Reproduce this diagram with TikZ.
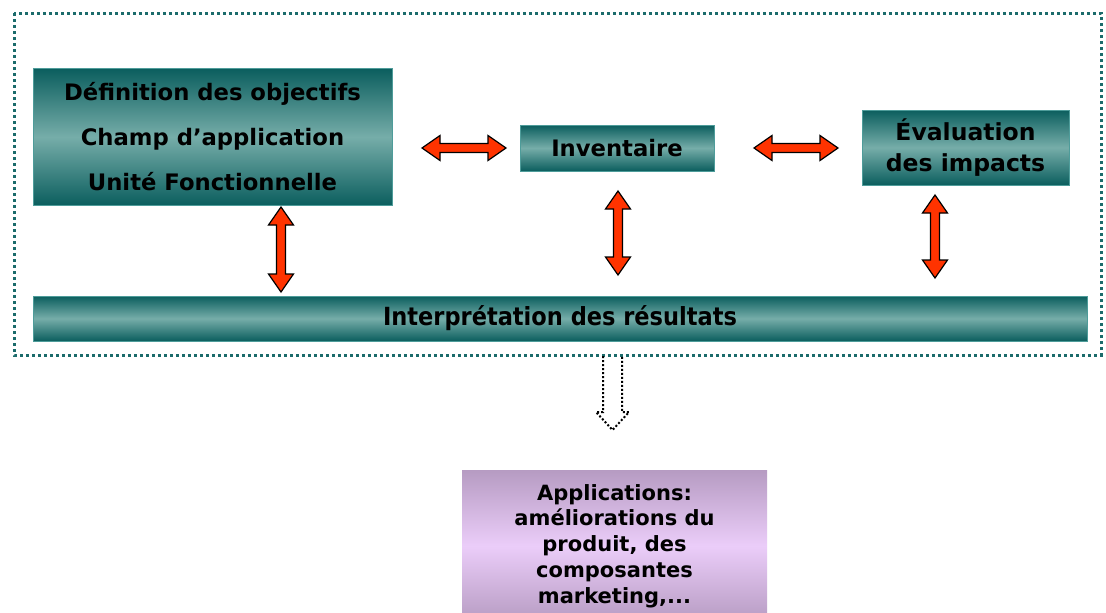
\documentclass[tikz,border=0pt]{standalone}
\usepackage{fontspec}
\usepackage{graphicx}
\setmainfont{DejaVu Sans}
\definecolor{tealdark}{HTML}{0B5E5E}
\definecolor{teallight}{HTML}{76ADA9}
\definecolor{tealedge}{HTML}{4E9C9A}
\definecolor{framecol}{HTML}{1B6B6B}
\definecolor{arrred}{HTML}{FF3300}
\definecolor{purptop}{HTML}{B69BC2}
\definecolor{purpmid}{HTML}{EBCDF9}
\newcommand\harrowshape[3]{%
\draw[arr] (#1,#3) -- ({#1+18},{#3-12.5}) -- ({#1+18},{#3-4.5}) -- ({#2-18},{#3-4.5}) -- ({#2-18},{#3-12.5}) -- (#2,#3) -- ({#2-18},{#3+12.5}) -- ({#2-18},{#3+4.5}) -- ({#1+18},{#3+4.5}) -- ({#1+18},{#3+12.5}) -- cycle;}
\newcommand\varrowshape[3]{%
\draw[arr] (#1,#2) -- ({#1-12.5},{#2+18}) -- ({#1-4.5},{#2+18}) -- ({#1-4.5},{#3-18}) -- ({#1-12.5},{#3-18}) -- (#1,#3) -- ({#1+12.5},{#3-18}) -- ({#1+4.5},{#3-18}) -- ({#1+4.5},{#2+18}) -- ({#1+12.5},{#2+18}) -- cycle;}
\begin{document}
\begin{tikzpicture}[x=1pt,y=-1pt,
  tbox/.style={draw=tealedge, line width=0.8, top color=tealdark, bottom color=tealdark, middle color=teallight, inner sep=0pt, align=center, text=black, font=\fontsize{22.7}{45}\selectfont\bfseries},
  pbox/.style={draw=none, top color=purptop, bottom color=purptop, middle color=purpmid, inner sep=0pt, align=center, text=black, font=\fontsize{21}{25.75}\selectfont\bfseries},
  arr/.style={draw=black, fill=arrred, line width=1.2, line join=miter},
  frame/.style={draw=framecol, line width=3, dash pattern=on 3 off 3},
  hollow/.style={draw=black, line width=2, dash pattern=on 2 off 2}]
\useasboundingbox (0,0) rectangle (1106,613);
\clip (0,0) rectangle (1106,613);
\fill[white] (0,0) rectangle (1106,613);
\draw[frame] (14,13) rectangle (1101,355);
\node[tbox, minimum width=359, minimum height=137] (def) at (212.5,137) {Définition des objectifs\\Champ d’application\\Unité Fonctionnelle};
\node[tbox, minimum width=194, minimum height=46] (inv) at (617,148) {Inventaire};
\node[tbox, minimum width=207, minimum height=75, font=\fontsize{23.5}{31}\selectfont\bfseries] (eval) at (965.5,147.5) {Évaluation\\des impacts};
\node[tbox, minimum width=1054, minimum height=45, font=\fontsize{25}{30}\selectfont\bfseries] (interp) at (560,318.5) {\scalebox{0.9}[1]{Interprétation des résultats}};
\node[pbox, minimum width=305, minimum height=152] (app) at (614.5,546) {Applications:\\améliorations du\\produit, des\\composantes\\marketing,...};
\harrowshape{422}{506}{148}
\harrowshape{754}{838}{148}
\varrowshape{281}{207}{292}
\varrowshape{618}{191}{275}
\varrowshape{935}{195}{278}
\draw[hollow] (603,356) -- (603,412) -- (596,412) -- (612.5,430) -- (629,412) -- (622,412) -- (622,356);
\end{tikzpicture}
\end{document}
